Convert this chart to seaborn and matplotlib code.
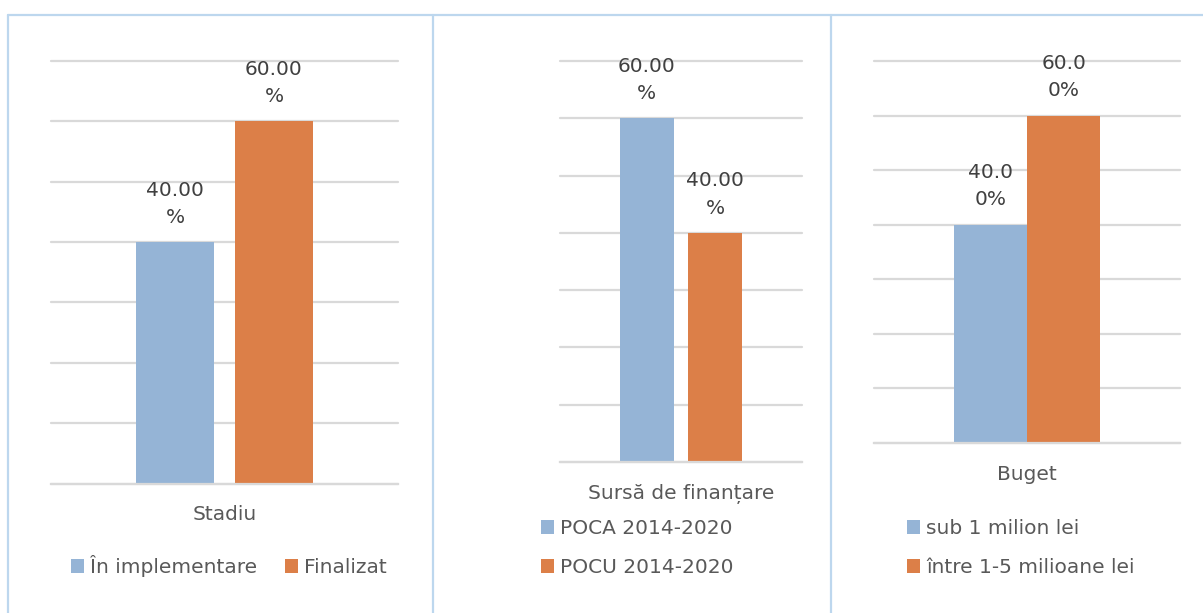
import pandas as pd
import matplotlib.pyplot as plt
import seaborn as sns
from matplotlib.lines import Line2D

# data (percent)
groups = ["Stadiu", "Sursă de finanțare", "Buget"]
series_stadiu = ["În implementare", "Finalizat"]
values_stadiu = [40.0, 60.0]
series_sursa = ["POCA 2014-2020", "POCU 2014-2020"]
values_sursa = [60.0, 40.0]
series_buget = ["sub 1 milion lei", "între 1-5 milioane lei"]
values_buget = [40.0, 60.0]

BLUE = "#95B4D6"
ORANGE = "#DC7F48"
GRID = "#D9D9D9"
BORDER = "#BDD7EE"
LABEL_C = "#404040"
TEXT_C = "#595959"
FS = 14.5

sns.set_style("white")
plt.rcParams["font.family"] = ["DejaVu Sans"]

W, H = 1203, 613
fig = plt.figure(figsize=(W / 100, H / 100), dpi=100)

# pixel boxes of the plot areas: left, right, top, bottom
boxes = [(51, 398, 61, 483.5), (560, 802, 61, 462), (874, 1180, 61, 443)]
bar_width = [0.57, 0.566, 0.48]
bar_gap = [0.21, 0.205, 0.0]
wrap_at = [5, 5, 4]  # excel wraps the data labels at this char
legend_cfg = [
    dict(loc="center", bbox_to_anchor=(229 / W, 1 - 566 / H), ncol=2),
    dict(loc="center left", bbox_to_anchor=(541 / W, 1 - 548 / H), ncol=1),
    dict(loc="center left", bbox_to_anchor=(907 / W, 1 - 548 / H), ncol=1),
]

panels = [
    (groups[0], series_stadiu, values_stadiu),
    (groups[1], series_sursa, values_sursa),
    (groups[2], series_buget, values_buget),
]

for i, (grp, series, vals) in enumerate(panels):
    l, r, t, b = boxes[i]
    ax = fig.add_axes([l / W, 1 - b / H, (r - l) / W, (b - t) / H])
    df = pd.DataFrame({"group": [grp] * len(series), "cat": series, "value": vals})
    sns.barplot(data=df, x="group", y="value", hue="cat", hue_order=series,
                palette=[BLUE, ORANGE], saturation=1, width=bar_width[i],
                gap=bar_gap[i], linewidth=0, edgecolor="none", ax=ax, legend=True)

    ax.set_xlim(-0.5, 0.5)
    ax.set_ylim(0, 70)
    ax.set_yticks(range(0, 71, 10))
    ax.set_yticklabels([])
    ax.yaxis.grid(True, color=GRID, lw=1.6)
    for gl in ax.get_ygridlines():
        gl.set_clip_on(False)
    ax.set_axisbelow(True)
    ax.set_xlabel("")
    ax.set_ylabel("")
    for side in ["left", "right", "top"]:
        ax.spines[side].set_visible(False)
    ax.spines["bottom"].set_color(GRID)
    ax.spines["bottom"].set_linewidth(1.6)
    ax.tick_params(axis="both", length=0)
    ax.tick_params(axis="x", pad=15.5, labelsize=FS, labelcolor=TEXT_C)

    # data labels, wrapped like in the original
    for cont, v in zip(ax.containers, vals):
        s = f"{v:.2f}%"
        k = wrap_at[i]
        ax.bar_label(cont, labels=[s[:k] + "\n" + s[k:]], padding=11,
                     fontsize=FS, color=LABEL_C, linespacing=1.55)

    sns.move_legend(ax, title=None, frameon=False, fontsize=FS,
                    bbox_transform=fig.transFigure, borderpad=0, borderaxespad=0,
                    handlelength=0.65, handleheight=0.65, handletextpad=0.3,
                    columnspacing=1.4, labelspacing=1.0, labelcolor=TEXT_C,
                    **legend_cfg[i])

# light blue frames around the three panels
top_y = 1 - 15 / H
fig.add_artist(Line2D([8 / W, 1], [top_y, top_y], transform=fig.transFigure, color=BORDER, lw=1.6))
for px in [8, 433, 831]:
    fig.add_artist(Line2D([px / W, px / W], [0, top_y], transform=fig.transFigure, color=BORDER, lw=1.6))

fig.savefig("out.png", dpi=100)
